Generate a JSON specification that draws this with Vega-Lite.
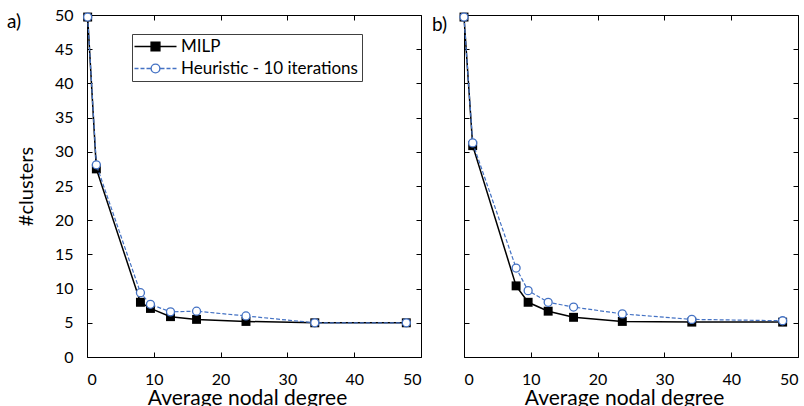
{
  "$schema": "https://vega.github.io/schema/vega-lite/v6.json",
  "padding": {"left": 7, "top": 7, "right": 0, "bottom": 0},
  "spacing": 10,
  "datasets": {
    "pts": [
      {"panel": "a", "series": "MILP", "x": 0.1, "y": 49.7},
      {"panel": "a", "series": "MILP", "x": 1.4, "y": 27.5},
      {"panel": "a", "series": "MILP", "x": 8.0, "y": 8.0},
      {"panel": "a", "series": "MILP", "x": 9.5, "y": 7.1},
      {"panel": "a", "series": "MILP", "x": 12.5, "y": 5.9},
      {"panel": "a", "series": "MILP", "x": 16.4, "y": 5.5},
      {"panel": "a", "series": "MILP", "x": 23.8, "y": 5.2},
      {"panel": "a", "series": "MILP", "x": 34.1, "y": 5.0},
      {"panel": "a", "series": "MILP", "x": 47.8, "y": 5.0},
      {"panel": "a", "series": "Heuristic", "x": 0.1, "y": 49.7},
      {"panel": "a", "series": "Heuristic", "x": 1.4, "y": 28.1},
      {"panel": "a", "series": "Heuristic", "x": 8.0, "y": 9.4},
      {"panel": "a", "series": "Heuristic", "x": 9.5, "y": 7.7},
      {"panel": "a", "series": "Heuristic", "x": 12.5, "y": 6.6},
      {"panel": "a", "series": "Heuristic", "x": 16.4, "y": 6.7},
      {"panel": "a", "series": "Heuristic", "x": 23.8, "y": 6.0},
      {"panel": "a", "series": "Heuristic", "x": 34.1, "y": 5.0},
      {"panel": "a", "series": "Heuristic", "x": 47.8, "y": 5.0},
      {"panel": "b", "series": "MILP", "x": 0.0, "y": 49.7},
      {"panel": "b", "series": "MILP", "x": 1.3, "y": 30.9},
      {"panel": "b", "series": "MILP", "x": 7.8, "y": 10.4},
      {"panel": "b", "series": "MILP", "x": 9.6, "y": 8.0},
      {"panel": "b", "series": "MILP", "x": 12.6, "y": 6.7},
      {"panel": "b", "series": "MILP", "x": 16.4, "y": 5.8},
      {"panel": "b", "series": "MILP", "x": 23.7, "y": 5.2},
      {"panel": "b", "series": "MILP", "x": 34.1, "y": 5.1},
      {"panel": "b", "series": "MILP", "x": 47.7, "y": 5.1},
      {"panel": "b", "series": "Heuristic", "x": 0.0, "y": 49.7},
      {"panel": "b", "series": "Heuristic", "x": 1.3, "y": 31.3},
      {"panel": "b", "series": "Heuristic", "x": 7.8, "y": 13.0},
      {"panel": "b", "series": "Heuristic", "x": 9.6, "y": 9.7},
      {"panel": "b", "series": "Heuristic", "x": 12.6, "y": 8.0},
      {"panel": "b", "series": "Heuristic", "x": 16.4, "y": 7.3},
      {"panel": "b", "series": "Heuristic", "x": 23.7, "y": 6.3},
      {"panel": "b", "series": "Heuristic", "x": 34.1, "y": 5.5},
      {"panel": "b", "series": "Heuristic", "x": 47.7, "y": 5.3}
    ],
    "err": [
      {"panel": "a", "x": 1.4, "lo": 26.9, "hi": 29.3},
      {"panel": "b", "x": 1.3, "lo": 30.2, "hi": 32.2}
    ]
  },
  "hconcat": [
    {
      "width": 334,
      "height": 342,
      "title": {"text": "a)", "anchor": "start", "frame": "group", "dx": -80, "offset": -25, "fontSize": 19, "font": "Lato", "fontWeight": "normal", "color": "#000"},
      "data": {"name": "pts"},
      "transform": [{"filter": "datum.panel == 'a'"}],
      "layer": [
        {
          "data": {"name": "err"},
          "transform": [{"filter": "datum.panel == 'a'"}],
          "mark": {"type": "rule", "color": "#999999", "strokeWidth": 1},
          "encoding": {
            "x": {"field": "x", "type": "quantitative", "axis": null},
            "y": {"field": "lo", "type": "quantitative", "axis": null},
            "y2": {"field": "hi"}
          }
        },
        {
          "transform": [{"filter": "datum.series == 'MILP'"}],
          "mark": {"type": "line", "color": "#000000", "strokeWidth": 1.5},
          "encoding": {
            "x": {"field": "x", "type": "quantitative", "scale": {"domain": [0, 50], "nice": false},
              "axis": {"orient": "bottom", "values": [0, 10, 20, 30, 40, 50], "title": "Average nodal degree", "titleX": 160, "titlePadding": 0, "titleFontSize": 21}},
            "y": {"field": "y", "type": "quantitative", "scale": {"domain": [0, 50], "nice": false},
              "axis": {"orient": "left", "values": [0, 5, 10, 15, 20, 25, 30, 35, 40, 45, 50], "title": "#clusters", "titlePadding": 18, "titleFontSize": 20}}
          }
        },
        {
          "transform": [{"filter": "datum.series == 'MILP'"}],
          "mark": {"type": "point", "shape": "square", "filled": true, "color": "#000000", "size": 80, "opacity": 1},
          "encoding": {
            "x": {"field": "x", "type": "quantitative", "axis": null},
            "y": {"field": "y", "type": "quantitative", "axis": null}
          }
        },
        {
          "transform": [{"filter": "datum.series == 'Heuristic'"}],
          "mark": {"type": "line", "color": "#4472C4", "strokeWidth": 1.2, "strokeDash": [4, 2]},
          "encoding": {
            "x": {"field": "x", "type": "quantitative",
              "axis": {"orient": "top", "values": [0, 10, 20, 30, 40, 50], "labels": false, "title": null}},
            "y": {"field": "y", "type": "quantitative",
              "axis": {"orient": "right", "values": [0, 5, 10, 15, 20, 25, 30, 35, 40, 45, 50], "labels": false, "title": null}}
          }
        },
        {
          "transform": [{"filter": "datum.series == 'Heuristic'"}],
          "mark": {"type": "point", "shape": "circle", "filled": false, "fill": "#ffffff", "stroke": "#4472C4", "strokeWidth": 1.3, "size": 64, "opacity": 1},
          "encoding": {
            "x": {"field": "x", "type": "quantitative", "axis": null},
            "y": {"field": "y", "type": "quantitative", "axis": null}
          }
        },
        {
          "transform": [{"filter": "false"}],
          "mark": {"type": "point", "opacity": 1, "strokeWidth": 1.4},
          "encoding": {
            "x": {"field": "x", "type": "quantitative", "axis": null},
            "y": {"field": "y", "type": "quantitative", "axis": null},
            "shape": {"field": "series", "type": "nominal",
              "scale": {"domain": ["MILP", "Heuristic - 10 iterations"],
                "range": ["M -5.25 0 H 5.25 M -1.1 -1.1 H 1.1 V 1.1 H -1.1 Z", "M -5.25 0 H -4.25 M -3.75 0 H -2.75 M -2.25 0 H -1.15 M 1.15 0 H 2.25 M 2.75 0 H 3.75 M 4.25 0 H 5.25 M -1.1 0 A 1.1 1.1 0 1 1 1.1 0 A 1.1 1.1 0 1 1 -1.1 0 Z"]},
              "legend": {"title": null, "orient": "none", "legendX": 45, "legendY": 19, "direction": "vertical",
                "strokeColor": "#404040", "padding": 4, "symbolSize": 64, "symbolOffset": 11, "labelOffset": 17,
                "rowPadding": 4, "labelFontSize": 17, "labelLimit": 400, "labelFont": "Lato", "labelColor": "#000", "symbolStrokeWidth": 1.4}},
            "stroke": {"field": "series", "type": "nominal",
              "scale": {"domain": ["MILP", "Heuristic - 10 iterations"], "range": ["#000000", "#4472C4"]}},
            "fill": {"field": "series", "type": "nominal",
              "scale": {"domain": ["MILP", "Heuristic - 10 iterations"], "range": ["#000000", "#ffffff"]}}
          }
        }
      ],
      "resolve": {"axis": {"x": "independent", "y": "independent"}}
    },
    {
      "width": 334,
      "height": 342,
      "title": {"text": "b)", "anchor": "start", "frame": "group", "dx": -32, "offset": -25, "fontSize": 19, "font": "Lato", "fontWeight": "normal", "color": "#000"},
      "data": {"name": "pts"},
      "transform": [{"filter": "datum.panel == 'b'"}],
      "layer": [
        {
          "data": {"name": "err"},
          "transform": [{"filter": "datum.panel == 'b'"}],
          "mark": {"type": "rule", "color": "#999999", "strokeWidth": 1},
          "encoding": {
            "x": {"field": "x", "type": "quantitative", "axis": null},
            "y": {"field": "lo", "type": "quantitative", "axis": null},
            "y2": {"field": "hi"}
          }
        },
        {
          "transform": [{"filter": "datum.series == 'MILP'"}],
          "mark": {"type": "line", "color": "#000000", "strokeWidth": 1.5},
          "encoding": {
            "x": {"field": "x", "type": "quantitative", "scale": {"domain": [0, 50], "nice": false},
              "axis": {"orient": "bottom", "values": [0, 10, 20, 30, 40, 50], "title": "Average nodal degree", "titleX": 160, "titlePadding": 0, "titleFontSize": 21}},
            "y": {"field": "y", "type": "quantitative", "scale": {"domain": [0, 50], "nice": false},
              "axis": {"orient": "left", "values": [0, 5, 10, 15, 20, 25, 30, 35, 40, 45, 50], "labels": false, "title": null}}
          }
        },
        {
          "transform": [{"filter": "datum.series == 'MILP'"}],
          "mark": {"type": "point", "shape": "square", "filled": true, "color": "#000000", "size": 80, "opacity": 1},
          "encoding": {
            "x": {"field": "x", "type": "quantitative", "axis": null},
            "y": {"field": "y", "type": "quantitative", "axis": null}
          }
        },
        {
          "transform": [{"filter": "datum.series == 'Heuristic'"}],
          "mark": {"type": "line", "color": "#4472C4", "strokeWidth": 1.2, "strokeDash": [4, 2]},
          "encoding": {
            "x": {"field": "x", "type": "quantitative",
              "axis": {"orient": "top", "values": [0, 10, 20, 30, 40, 50], "labels": false, "title": null}},
            "y": {"field": "y", "type": "quantitative",
              "axis": {"orient": "right", "values": [0, 5, 10, 15, 20, 25, 30, 35, 40, 45, 50], "labels": false, "title": null}}
          }
        },
        {
          "transform": [{"filter": "datum.series == 'Heuristic'"}],
          "mark": {"type": "point", "shape": "circle", "filled": false, "fill": "#ffffff", "stroke": "#4472C4", "strokeWidth": 1.3, "size": 64, "opacity": 1},
          "encoding": {
            "x": {"field": "x", "type": "quantitative", "axis": null},
            "y": {"field": "y", "type": "quantitative", "axis": null}
          }
        }
      ],
      "resolve": {"axis": {"x": "independent", "y": "independent"}}
    }
  ],
  "config": {
    "view": {"stroke": null},
    "axis": {
      "grid": false,
      "domainColor": "#000000",
      "domainWidth": 1,
      "tickColor": "#000000",
      "tickSize": -5,
      "tickWidth": 1,
      "labelFont": "Lato",
      "labelFontSize": 16,
      "labelColor": "#000000",
      "labelPadding": 19,
      "titleFont": "Lato",
      "titleFontSize": 19,
      "titleFontWeight": "normal",
      "titleColor": "#000000",
      "titlePadding": 6
    }
  }
}
